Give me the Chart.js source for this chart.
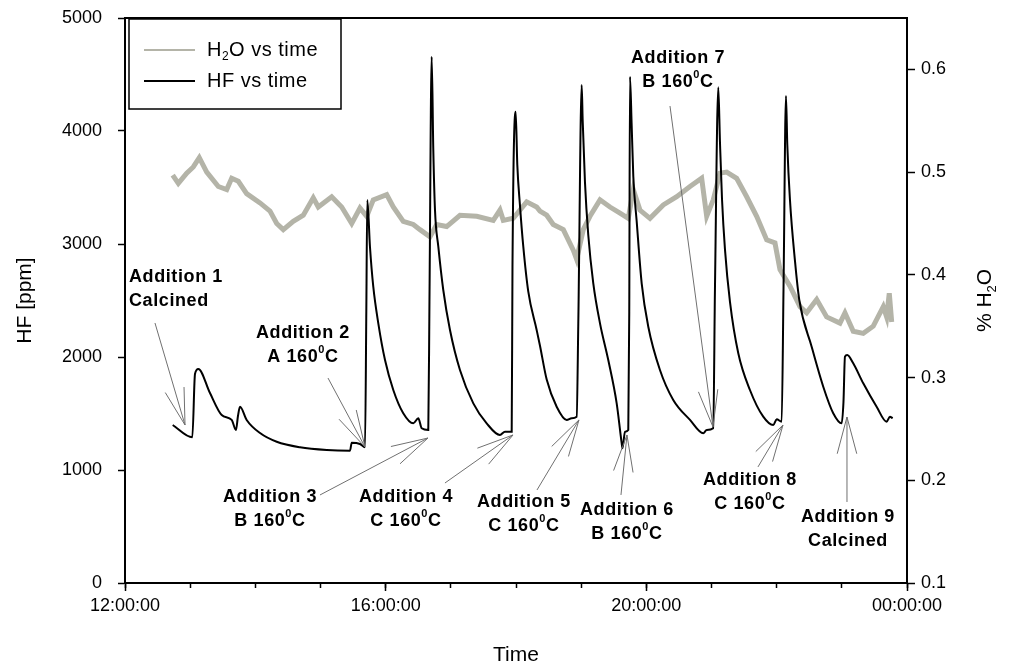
<!DOCTYPE html>
<html>
<head>
<meta charset="utf-8">
<script src="https://cdn.jsdelivr.net/npm/chart.js@4/dist/chart.umd.min.js"></script>
<style>
html, body { margin: 0; padding: 0; background: #fff; }
#wrap { width: 1013px; height: 672px; }
</style>
</head>
<body>
<div id="wrap"><canvas id="hfChart" width="1013" height="672"></canvas></div>
<script>
const FONT = "'Liberation Sans', Arial, sans-serif";

// HF [ppm] vs time of day (hours)
const hfTime = [12.732, 13.033, 13.074, 13.125, 13.304, 13.484, 13.637, 13.703, 13.734, 13.765,
    13.867, 14.072, 14.328, 14.685, 15.095, 15.453, 15.479, 15.606, 15.683, 15.703,
    15.718, 15.759, 15.810, 15.887, 15.990, 16.117, 16.270, 16.424, 16.501, 16.553,
    16.654, 16.672, 16.706, 16.731, 16.757, 16.808, 16.884, 16.987, 17.140, 17.345,
    17.550, 17.754, 17.831, 17.934, 17.946, 17.995, 18.020, 18.061, 18.112, 18.188,
    18.317, 18.368, 18.471, 18.624, 18.778, 18.854, 18.931, 18.956, 19.008, 19.023,
    19.058, 19.109, 19.186, 19.289, 19.416, 19.545, 19.622, 19.634, 19.672, 19.723,
    19.738, 19.749, 19.775, 19.800, 19.852, 19.929, 20.030, 20.209, 20.413, 20.670,
    20.874, 20.926, 21.027, 21.053, 21.104, 21.130, 21.161, 21.207, 21.283, 21.411,
    21.590, 21.794, 21.948, 22.000, 22.077, 22.105, 22.143, 22.163, 22.204, 22.281,
    22.347, 22.537, 22.715, 22.868, 22.997, 23.025, 23.048, 23.083, 23.175, 23.329,
    23.534, 23.688, 23.738, 23.780];
const hfValue = [1398, 1289, 1850, 1894, 1681, 1487, 1443, 1354, 1480, 1560,
    1443, 1327, 1250, 1201, 1177, 1171, 1241, 1230, 1201, 2400,
    3390, 2976, 2622, 2298, 1973, 1708, 1502, 1413, 1458, 1369,
    1354, 2500, 4658, 3832, 3300, 2976, 2593, 2239, 1885, 1590,
    1413, 1310, 1339, 1339, 2800, 4171, 3700, 3340, 2976, 2580,
    2239, 2100, 1800, 1560, 1443, 1458, 1472, 2300, 4407, 4098,
    3550, 3080, 2652, 2298, 1973, 1590, 1236, 1192, 1339, 1354,
    2400, 4481, 4050, 3600, 3200, 2650, 2268, 1885, 1620, 1443,
    1325, 1354, 1369, 2600, 4387, 3900, 3400, 2950, 2490, 2033,
    1708, 1472, 1398, 1449, 1428, 2600, 4310, 3880, 3390, 2850,
    2505, 2091, 1737, 1502, 1413, 1600, 2003, 2018, 1944, 1767,
    1560, 1428, 1472, 1458];

// % H2O vs time of day (hours)
const h2oTime = [12.732, 12.818, 12.947, 13.048, 13.140, 13.254, 13.432, 13.561, 13.637, 13.739,
    13.867, 14.072, 14.225, 14.328, 14.429, 14.582, 14.736, 14.889, 14.966, 15.172,
    15.325, 15.479, 15.606, 15.709, 15.810, 16.016, 16.117, 16.270, 16.424, 16.527,
    16.680, 16.783, 16.936, 17.140, 17.397, 17.651, 17.754, 17.805, 17.958, 18.164,
    18.317, 18.368, 18.471, 18.572, 18.726, 18.879, 18.931, 19.032, 19.135, 19.289,
    19.442, 19.596, 19.723, 19.800, 19.902, 20.056, 20.260, 20.466, 20.670, 20.849,
    20.926, 21.027, 21.130, 21.233, 21.386, 21.540, 21.693, 21.847, 21.974, 22.051,
    22.204, 22.358, 22.460, 22.614, 22.767, 22.971, 23.048, 23.175, 23.329, 23.482,
    23.636, 23.688, 23.728, 23.765];
const h2oValue = [0.497, 0.489, 0.499, 0.505, 0.514, 0.500, 0.486, 0.483, 0.494, 0.491,
    0.479, 0.470, 0.462, 0.450, 0.444, 0.452, 0.458, 0.475, 0.466, 0.476,
    0.466, 0.450, 0.465, 0.457, 0.473, 0.478, 0.466, 0.452, 0.449, 0.444,
    0.437, 0.449, 0.447, 0.458, 0.457, 0.453, 0.463, 0.453, 0.455, 0.471,
    0.466, 0.462, 0.458, 0.449, 0.444, 0.424, 0.415, 0.444, 0.457, 0.473,
    0.466, 0.460, 0.455, 0.483, 0.463, 0.455, 0.468, 0.476, 0.486, 0.494,
    0.457, 0.473, 0.499, 0.500, 0.494, 0.476, 0.457, 0.434, 0.431, 0.405,
    0.389, 0.369, 0.363, 0.376, 0.359, 0.353, 0.363, 0.345, 0.343, 0.350,
    0.369, 0.359, 0.382, 0.354];

// callouts: text anchor, arrow start and arrow tip in (hour, ppm)
// "^x" = superscript char, "_x" = subscript char
const notes = [
    { text: ['Addition 1', 'Calcined'], at: [12.061, 2708], align: 'left', from: [12.460, 2301], to: [12.921, 1398] },
    { text: ['Addition 2', 'A 160^0C'], at: [14.731, 2213], align: 'center', from: [15.115, 1814], to: [15.683, 1204] },
    { text: ['Addition 3', 'B 160^0C'], at: [14.225, 761], align: 'center', from: [14.992, 779], to: [16.649, 1283] },
    { text: ['Addition 4', 'C 160^0C'], at: [16.312, 761], align: 'center', from: [16.910, 885], to: [17.954, 1310] },
    { text: ['Addition 5', 'C 160^0C'], at: [18.122, 717], align: 'center', from: [18.322, 823], to: [18.966, 1443] },
    { text: ['Addition 6', 'B 160^0C'], at: [19.703, 646], align: 'center', from: [19.611, 779], to: [19.703, 1310] },
    { text: ['Addition 7', 'B 160^0C'], at: [20.486, 4646], align: 'center', from: [20.363, 4221], to: [21.023, 1381] },
    { text: ['Addition 8', 'C 160^0C'], at: [21.590, 912], align: 'center', from: [21.713, 1027], to: [22.097, 1398] },
    { text: ['Addition 9', 'Calcined'], at: [23.094, 584], align: 'center', from: [23.079, 717], to: [23.079, 1469] }
];

const H2O_COLOR = '#b4b4a8';

function drawRich(ctx, str, x, y, align, size, weight) {
    const parts = [];
    let buf = '';
    for (let i = 0; i < str.length; i++) {
        const c = str[i];
        if ((c === '^' || c === '_') && i + 1 < str.length) {
            if (buf) parts.push({ t: buf, m: 0 });
            buf = '';
            parts.push({ t: str[i + 1], m: c === '^' ? 1 : -1 });
            i++;
        } else {
            buf += c;
        }
    }
    if (buf) parts.push({ t: buf, m: 0 });

    const big = `${weight} ${size}px ${FONT}`;
    const small = `${weight} ${Math.round(size * 0.6)}px ${FONT}`;
    let total = 0;
    parts.forEach(p => {
        ctx.font = p.m ? small : big;
        p.w = ctx.measureText(p.t).width;
        total += p.w;
    });
    let cx = align === 'left' ? x : x - total / 2;
    ctx.textAlign = 'left';
    ctx.textBaseline = 'middle';
    parts.forEach(p => {
        ctx.font = p.m ? small : big;
        const dy = p.m === 1 ? -size * 0.4 : (p.m === -1 ? size * 0.35 : 0);
        ctx.fillText(p.t, cx, y + dy);
        cx += p.w;
    });
}

const decorPlugin = {
    id: 'decor',
    afterDraw(chart) {
        const { ctx, chartArea: area, scales } = chart;
        const x = scales.x, y = scales.y;
        ctx.save();

        // frame
        ctx.strokeStyle = '#000';
        ctx.lineWidth = 2;
        ctx.strokeRect(area.left, area.top, area.right - area.left, area.bottom - area.top);

        // callouts
        notes.forEach(n => {
            const sx = x.getPixelForValue(n.from[0]), sy = y.getPixelForValue(n.from[1]);
            const tx = x.getPixelForValue(n.to[0]), ty = y.getPixelForValue(n.to[1]);
            const ang = Math.atan2(sy - ty, sx - tx);
            ctx.strokeStyle = '#707070';
            ctx.lineWidth = 1;
            ctx.beginPath();
            ctx.moveTo(sx, sy);
            ctx.lineTo(tx, ty);
            [-0.26, 0.26].forEach(d => {
                ctx.moveTo(tx, ty);
                ctx.lineTo(tx + 38 * Math.cos(ang + d), ty + 38 * Math.sin(ang + d));
            });
            ctx.stroke();

            ctx.fillStyle = '#000';
            ctx.letterSpacing = '0.6px';
            const ax = x.getPixelForValue(n.at[0]), ay = y.getPixelForValue(n.at[1]);
            n.text.forEach((line, i) => drawRich(ctx, line, ax, ay + i * 24, n.align, 18, 'bold'));
            ctx.letterSpacing = '0px';
        });

        // legend
        const lx = area.left + 4, ly = area.top + 1;
        ctx.fillStyle = '#fff';
        ctx.fillRect(lx, ly, 212, 90);
        ctx.strokeStyle = '#000';
        ctx.lineWidth = 1.5;
        ctx.strokeRect(lx, ly, 212, 90);
        const rows = [{ label: 'H_2O vs time', color: H2O_COLOR }, { label: 'HF vs time', color: '#000' }];
        rows.forEach((r, i) => {
            const ry = ly + 31 + i * 31;
            ctx.strokeStyle = r.color;
            ctx.lineWidth = 2;
            ctx.beginPath();
            ctx.moveTo(lx + 15, ry);
            ctx.lineTo(lx + 66, ry);
            ctx.stroke();
            ctx.fillStyle = '#000';
            ctx.letterSpacing = '0.5px';
            drawRich(ctx, r.label, lx + 78, ry, 'left', 20, 'normal');
            ctx.letterSpacing = '0px';
        });

        // right axis title, read bottom to top
        ctx.translate(chart.width - 28, (area.top + area.bottom) / 2);
        ctx.rotate(-Math.PI / 2);
        ctx.fillStyle = '#000';
        drawRich(ctx, '% H_2O', 0, 0, 'center', 21, 'normal');
        ctx.restore();
    }
};

const tickFont = { family: FONT, size: 18 };
const titleFont = { family: FONT, size: 21 };

function hourLabel(v) {
    const h = Math.round(v) % 24;
    return (h < 10 ? '0' + h : '' + h) + ':00:00';
}

// fixed axis sizes so the plot box lands where the reference has it
function fixWidth(w) {
    return s => {
        s.width = w;
        s.paddingTop = 0;
        s.paddingBottom = 0;
    };
}

const ctx = document.getElementById('hfChart').getContext('2d');
new Chart(ctx, {
    type: 'line',
    data: {
        datasets: [{
            label: 'HF vs time',
            data: hfTime.map((t, i) => ({ x: t, y: hfValue[i] })),
            yAxisID: 'y',
            borderColor: '#000',
            borderWidth: 2,
            pointRadius: 0,
            cubicInterpolationMode: 'monotone',
            order: 0
        }, {
            label: 'H2O vs time',
            data: h2oTime.map((t, i) => ({ x: t, y: h2oValue[i] })),
            yAxisID: 'y1',
            borderColor: H2O_COLOR,
            borderWidth: 5,
            pointRadius: 0,
            tension: 0,
            order: 1
        }]
    },
    options: {
        responsive: false,
        animation: false,
        layout: { padding: { top: 18, left: 0, right: 0, bottom: 0 } },
        plugins: { legend: { display: false }, tooltip: { enabled: false } },
        scales: {
            x: {
                type: 'linear',
                position: 'bottom',
                weight: 1,
                min: 12,
                max: 24,
                ticks: { stepSize: 4, callback: hourLabel, color: '#000', font: tickFont, maxRotation: 0, padding: 4 },
                grid: { drawOnChartArea: false, tickLength: 8, tickWidth: 1.5, tickColor: '#000' },
                border: { color: '#000', width: 2 },
                title: { display: true, text: 'Time', color: '#000', font: titleFont, padding: { top: 0, bottom: 4 } },
                afterFit: s => { s.height = 89; }
            },
            xMinor: {
                type: 'linear',
                position: 'bottom',
                weight: 0,
                min: 12,
                max: 24,
                ticks: { stepSize: 1, display: false },
                grid: { drawOnChartArea: false, tickLength: 5, tickWidth: 1.5, tickColor: '#000' },
                border: { display: false },
                afterFit: s => { s.height = 0; }
            },
            y: {
                position: 'left',
                min: 0,
                max: 5000,
                ticks: { stepSize: 1000, callback: v => String(v), color: '#000', font: tickFont, padding: 16 },
                grid: { drawOnChartArea: false, tickLength: 7, tickWidth: 1.5, tickColor: '#000' },
                border: { color: '#000', width: 2 },
                title: { display: true, text: 'HF [ppm]', color: '#000', font: titleFont, padding: { top: 13, bottom: 0 } },
                afterFit: fixWidth(125)
            },
            y1: {
                position: 'right',
                min: 0.1,
                max: 0.65,
                ticks: { stepSize: 0.1, callback: v => v.toFixed(1), color: '#000', font: tickFont, padding: 6 },
                afterBuildTicks: s => { s.ticks = s.ticks.filter(t => t.value < 0.61); },
                grid: { drawOnChartArea: false, tickLength: 8, tickWidth: 1.5, tickColor: '#000' },
                border: { color: '#000', width: 2 },
                afterFit: fixWidth(106)
            }
        }
    },
    plugins: [decorPlugin]
});
</script>
</body>
</html>
